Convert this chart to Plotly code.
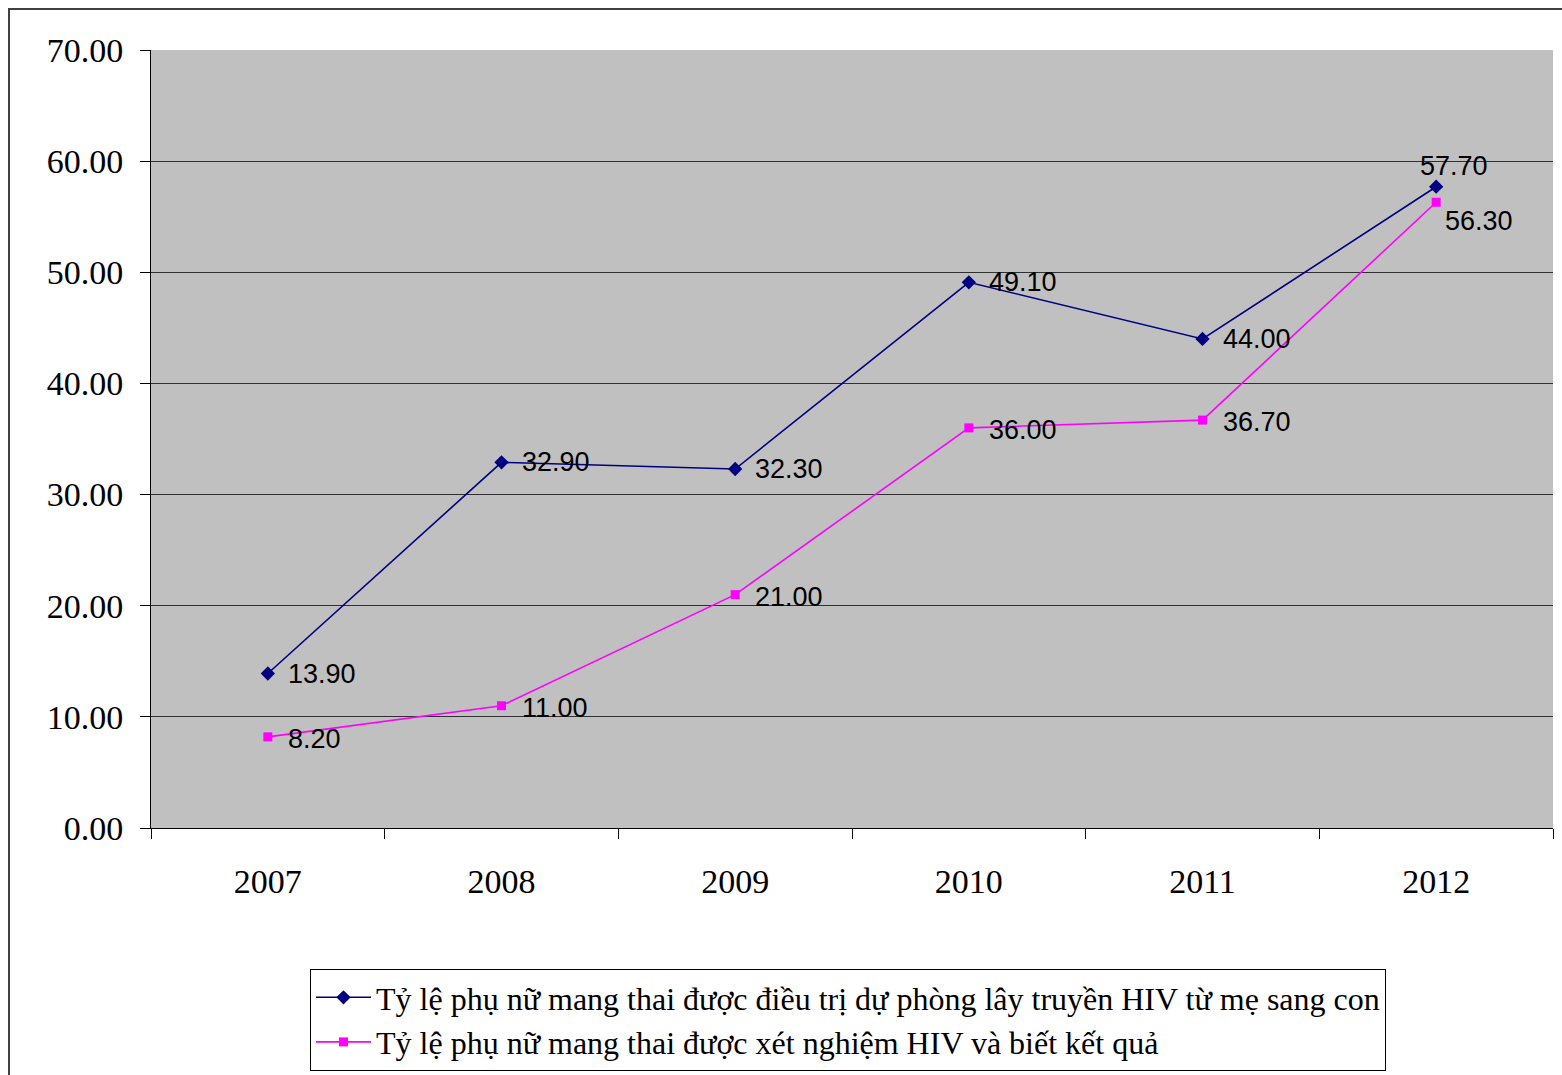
import plotly.graph_objects as go

years = ["2007", "2008", "2009", "2010", "2011", "2012"]
treated = [13.90, 32.90, 32.30, 49.10, 44.00, 57.70]
tested = [8.20, 11.00, 21.00, 36.00, 36.70, 56.30]
name_treated = "Tỷ lệ phụ nữ mang thai được điều trị dự phòng lây truyền HIV từ mẹ sang con"
name_tested = "Tỷ lệ phụ nữ mang thai được xét nghiệm HIV và biết kết quả"
y_ticks = [0, 10, 20, 30, 40, 50, 60, 70]

fig = go.Figure()
fig.add_trace(go.Scatter(x=years, y=treated, name=name_treated, mode="lines+markers",
                         line=dict(color="#000080", width=1.6),
                         marker=dict(symbol="diamond", size=11, color="#000080")))
fig.add_trace(go.Scatter(x=years, y=tested, name=name_tested, mode="lines+markers",
                         line=dict(color="#FF00FF", width=1.6),
                         marker=dict(symbol="square", size=9, color="#FF00FF")))

label_font = dict(family="Liberation Sans, Arial", size=27, color="black")
last = len(years) - 1
for i, v in enumerate(treated):
    if i == last:
        fig.add_annotation(x=i, y=v, text=f"{v:.2f}", showarrow=False, xanchor="center",
                           yanchor="middle", xshift=18, yshift=21, font=label_font)
    else:
        fig.add_annotation(x=i, y=v, text=f"{v:.2f}", showarrow=False, xanchor="left",
                           yanchor="middle", xshift=18, yshift=0, font=label_font)
for i, v in enumerate(tested):
    if i == last:
        fig.add_annotation(x=i, y=v, text=f"{v:.2f}", showarrow=False, xanchor="left",
                           yanchor="middle", xshift=7, yshift=-19, font=label_font)
    else:
        fig.add_annotation(x=i, y=v, text=f"{v:.2f}", showarrow=False, xanchor="left",
                           yanchor="middle", xshift=18, yshift=-2, font=label_font)

# outer frame
fig.add_shape(type="rect", xref="paper", yref="paper",
              x0=(9 - 151) / 1402, x1=1.05, y0=-0.4, y1=(828 - 9) / 778,
              line=dict(color="#404040", width=2), fillcolor="rgba(0,0,0,0)", layer="above")

fig.update_layout(
    width=1562, height=1075,
    margin=dict(l=151, r=9, t=50, b=247, autoexpand=False),
    paper_bgcolor="white", plot_bgcolor="#C0C0C0",
    font=dict(family="Liberation Serif, Times New Roman", size=32, color="black"),
    showlegend=True,
    legend=dict(x=(310 - 151) / 1402, y=(828 - 969) / 778, xanchor="left", yanchor="top",
                bordercolor="black", borderwidth=1, bgcolor="white",
                font=dict(family="Liberation Serif, Times New Roman", size=32),
                tracegroupgap=0, itemwidth=55),
    xaxis=dict(type="category", range=[-0.5, 5.5], tickson="boundaries", ticks="outside",
               ticklen=10, tickcolor="black", showline=True, linecolor="black", linewidth=1,
               showgrid=False, ticklabelstandoff=23, tickangle=0,
               tickfont=dict(family="Liberation Serif, Times New Roman", size=34)),
    yaxis=dict(range=[0, 70], tickvals=y_ticks, ticktext=[f"{t:.2f}" for t in y_ticks],
               ticks="outside", ticklen=10, tickcolor="black", showline=True,
               linecolor="black", linewidth=1, showgrid=True, gridcolor="#303030",
               gridwidth=1, zeroline=False, ticklabelstandoff=10,
               tickfont=dict(family="Liberation Serif, Times New Roman", size=34)),
)

fig.write_html("out.html")
